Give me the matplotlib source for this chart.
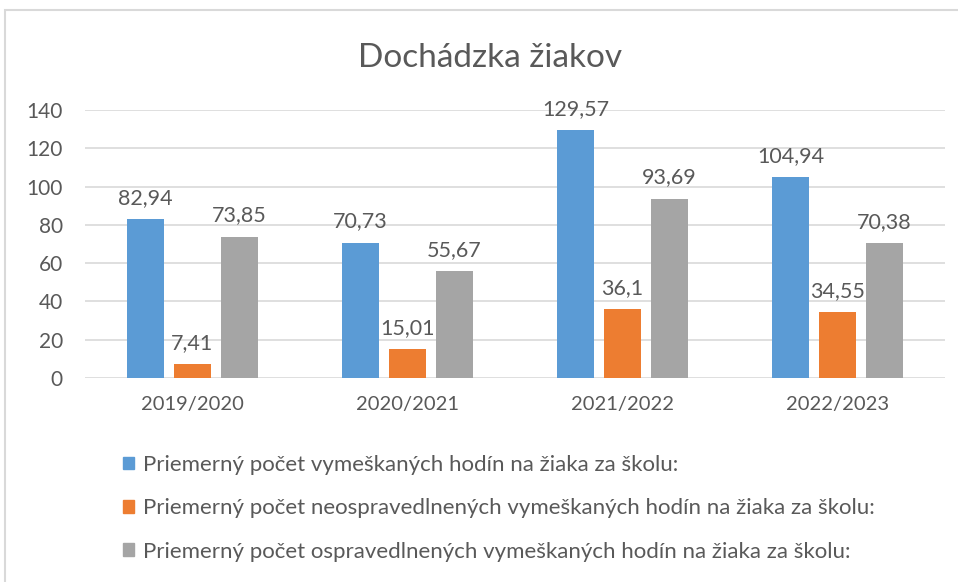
import numpy as np
import matplotlib.pyplot as plt
from matplotlib.patches import Rectangle, Patch

roky = ['2019/2020', '2020/2021', '2021/2022', '2022/2023']
vymeskane = [82.94, 70.73, 129.57, 104.94]
neospravedlnene = [7.41, 15.01, 36.1, 34.55]
ospravedlnene = [73.85, 55.67, 93.69, 70.38]
nazvy = ['Priemerný počet vymeškaných hodín na žiaka za školu:',
         'Priemerný počet neospravedlnených vymeškaných hodín na žiaka za školu:',
         'Priemerný počet ospravedlnených vymeškaných hodín na žiaka za školu:']
farby = ['#5B9BD5', '#ED7D31', '#A5A5A5']

txt = '#595959'
plt.rcParams['font.family'] = ['Lato', 'DejaVu Sans']

fig = plt.figure(figsize=(9.58, 5.82), dpi=100)
fig.patches.append(Rectangle((5/958, -0.1), 1.1, 1 - 10/582 + 0.1, transform=fig.transFigure,
                             fill=False, edgecolor='#D9D9D9', linewidth=1.5))

ax = fig.add_axes([85/958, 1 - 378/582, 860/958, 268/582])
x = np.arange(len(roky))
w = 0.172
krok = 0.219
for i, (data, f) in enumerate(zip([vymeskane, neospravedlnene, ospravedlnene], farby)):
    pos = x + (i - 1) * krok
    bars = ax.bar(pos, data, width=w, color=f, zorder=3, label=nazvy[i])
    for b, v in zip(bars, data):
        ax.annotate(f'{v:g}'.replace('.', ','), (b.get_x() + b.get_width()/2, v),
                    xytext=(0, 8), textcoords='offset points', ha='center', va='bottom',
                    fontsize=15.5, color=txt)

ax.set_xlim(-0.5, 3.5)
ax.set_ylim(0, 140)
ax.set_yticks(range(0, 141, 20))
ax.set_xticks(x)
ax.set_xticklabels(roky)
ax.grid(axis='y', color='#D9D9D9', linewidth=1.2, zorder=0)
for s in ax.spines.values():
    s.set_visible(False)
ax.tick_params(length=0, colors=txt)
ax.tick_params(axis='y', pad=16, labelsize=15)
ax.tick_params(axis='x', pad=13, labelsize=14.5)

fig.text(490/958, 1 - 58/582, 'Dochádzka žiakov', ha='center', va='center', fontsize=24, color=txt)

handles = [Patch(color=f) for f in farby]
fig.legend(handles, nazvy, loc='upper left', bbox_to_anchor=(114/958, 1 - 446/582),
           frameon=False, fontsize=16, labelcolor=txt, handlelength=0.5, handleheight=0.5,
           handletextpad=0.4, labelspacing=1.05, borderaxespad=0)

fig.savefig('out.png', dpi=100)
